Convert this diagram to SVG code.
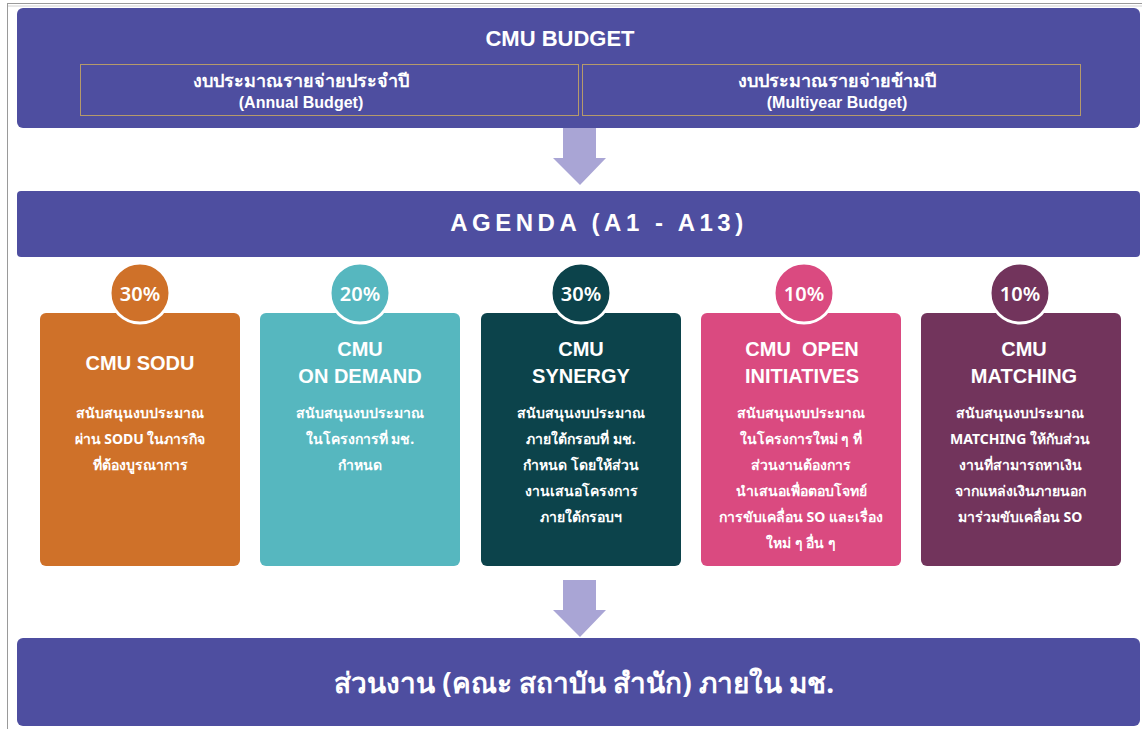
<svg xmlns="http://www.w3.org/2000/svg" width="1142" height="729" viewBox="0 0 1142 729">
<style>
.band{fill:#4e4ea0}
.sub{fill:none;stroke:#b59a6a;stroke-width:1}
.arrow{fill:#a9a5d5}
.wt{fill:#ffffff;font-family:"Liberation Sans",Arial,sans-serif;font-weight:bold;text-anchor:middle}
.th{fill:#ffffff;font-family:"Noto Sans","DejaVu Sans",sans-serif;font-weight:bold;text-anchor:middle}
.title{font-size:20px}
.body{font-size:14px}
.pct{fill:#ffffff;font-family:"Noto Sans","Open Sans",sans-serif;font-weight:600;font-size:20px;text-anchor:middle}
.ring{stroke:#ffffff;stroke-width:3}
</style>
<rect x="7.5" y="3.5" width="1140" height="730" fill="none" stroke="#9a9a9a" stroke-width="1"/>
<line x1="8" y1="6" x2="1142" y2="6" stroke="#d0d0d0" stroke-width="1"/>

<g id="connectors">
  <path class="arrow" d="M563,128 H596 V158 H606 L580,185 L553,158 H563 Z"/>
  <path class="arrow" d="M563,580 H596 V610 H606 L580,637 L553,610 H563 Z"/>
</g>

<g id="budget">
  <rect class="band" x="17" y="8" width="1123" height="120" rx="6"/>
  <text class="wt" x="560" y="46" font-size="22">CMU BUDGET</text>
  <rect class="sub" x="80.5" y="64.5" width="498" height="51"/>
  <rect class="sub" x="582.5" y="64.5" width="498" height="51"/>
  <text class="th" x="301" y="87" font-size="18">งบประมาณรายจ่ายประจำปี</text>
  <text class="wt" x="301" y="108" font-size="16">(Annual Budget)</text>
  <text class="th" x="837" y="87" font-size="18">งบประมาณรายจ่ายข้ามปี</text>
  <text class="wt" x="837" y="108" font-size="16">(Multiyear Budget)</text>
</g>

<g id="agenda">
  <rect class="band" x="17" y="191" width="1123" height="66" rx="4"/>
  <text class="wt" x="599" y="231" font-size="24" letter-spacing="4.5">AGENDA (A1 - A13)</text>
</g>

<g id="sodu">
  <rect x="40" y="313" width="200" height="253" rx="6" fill="#cf7129"/>
  <circle class="ring" cx="140" cy="293" r="30" fill="#cf7129"/>
  <text class="pct" x="140" y="301">30%</text>
  <text class="wt title" x="140" y="370">CMU SODU</text>
  <text class="th body" x="140" y="418">สนับสนุนงบประมาณ</text>
  <text class="th body" x="140" y="444">ผ่าน SODU ในภารกิจ</text>
  <text class="th body" x="140" y="470">ที่ต้องบูรณาการ</text>
</g>

<g id="ondemand">
  <rect x="260" y="313" width="200" height="253" rx="6" fill="#56b7bf"/>
  <circle class="ring" cx="360" cy="293" r="30" fill="#56b7bf"/>
  <text class="pct" x="360" y="301">20%</text>
  <text class="wt title" x="360" y="356">CMU</text>
  <text class="wt title" x="360" y="383">ON DEMAND</text>
  <text class="th body" x="360" y="418">สนับสนุนงบประมาณ</text>
  <text class="th body" x="360" y="444">ในโครงการที่ มช.</text>
  <text class="th body" x="360" y="470">กำหนด</text>
</g>

<g id="synergy">
  <rect x="481" y="313" width="200" height="253" rx="6" fill="#0c434b"/>
  <circle class="ring" cx="581" cy="293" r="30" fill="#0c434b"/>
  <text class="pct" x="581" y="301">30%</text>
  <text class="wt title" x="581" y="356">CMU</text>
  <text class="wt title" x="581" y="383">SYNERGY</text>
  <text class="th body" x="581" y="418">สนับสนุนงบประมาณ</text>
  <text class="th body" x="581" y="444">ภายใต้กรอบที่ มช.</text>
  <text class="th body" x="581" y="470">กำหนด โดยให้ส่วน</text>
  <text class="th body" x="581" y="496">งานเสนอโครงการ</text>
  <text class="th body" x="581" y="522">ภายใต้กรอบฯ</text>
</g>

<g id="open">
  <rect x="701" y="313" width="200" height="253" rx="6" fill="#da4a80"/>
  <circle class="ring" cx="804" cy="293" r="30" fill="#da4a80"/>
  <text class="pct" x="804" y="301">10%</text>
  <text class="wt title" x="802" y="356" xml:space="preserve">CMU  OPEN</text>
  <text class="wt title" x="802" y="383">INITIATIVES</text>
  <text class="th body" x="801" y="418">สนับสนุนงบประมาณ</text>
  <text class="th body" x="801" y="444">ในโครงการใหม่ ๆ ที่</text>
  <text class="th body" x="801" y="470">ส่วนงานต้องการ</text>
  <text class="th body" x="801" y="496">นำเสนอเพื่อตอบโจทย์</text>
  <text class="th body" x="801" y="522">การขับเคลื่อน SO และเรื่อง</text>
  <text class="th body" x="801" y="548">ใหม่ ๆ อื่น ๆ</text>
</g>

<g id="matching">
  <rect x="921" y="313" width="200" height="253" rx="6" fill="#72345c"/>
  <circle class="ring" cx="1020" cy="293" r="30" fill="#72345c"/>
  <text class="pct" x="1020" y="301">10%</text>
  <text class="wt title" x="1024" y="356">CMU</text>
  <text class="wt title" x="1024" y="383">MATCHING</text>
  <text class="th body" x="1020" y="418">สนับสนุนงบประมาณ</text>
  <text class="th body" x="1020" y="444">MATCHING ให้กับส่วน</text>
  <text class="th body" x="1020" y="470">งานที่สามารถหาเงิน</text>
  <text class="th body" x="1020" y="496">จากแหล่งเงินภายนอก</text>
  <text class="th body" x="1020" y="522">มาร่วมขับเคลื่อน SO</text>
</g>

<g id="units">
  <rect class="band" x="17" y="638" width="1123" height="88" rx="6"/>
  <text class="th" x="584" y="693" font-size="28">ส่วนงาน (คณะ สถาบัน สำนัก) ภายใน มช.</text>
</g>
</svg>
